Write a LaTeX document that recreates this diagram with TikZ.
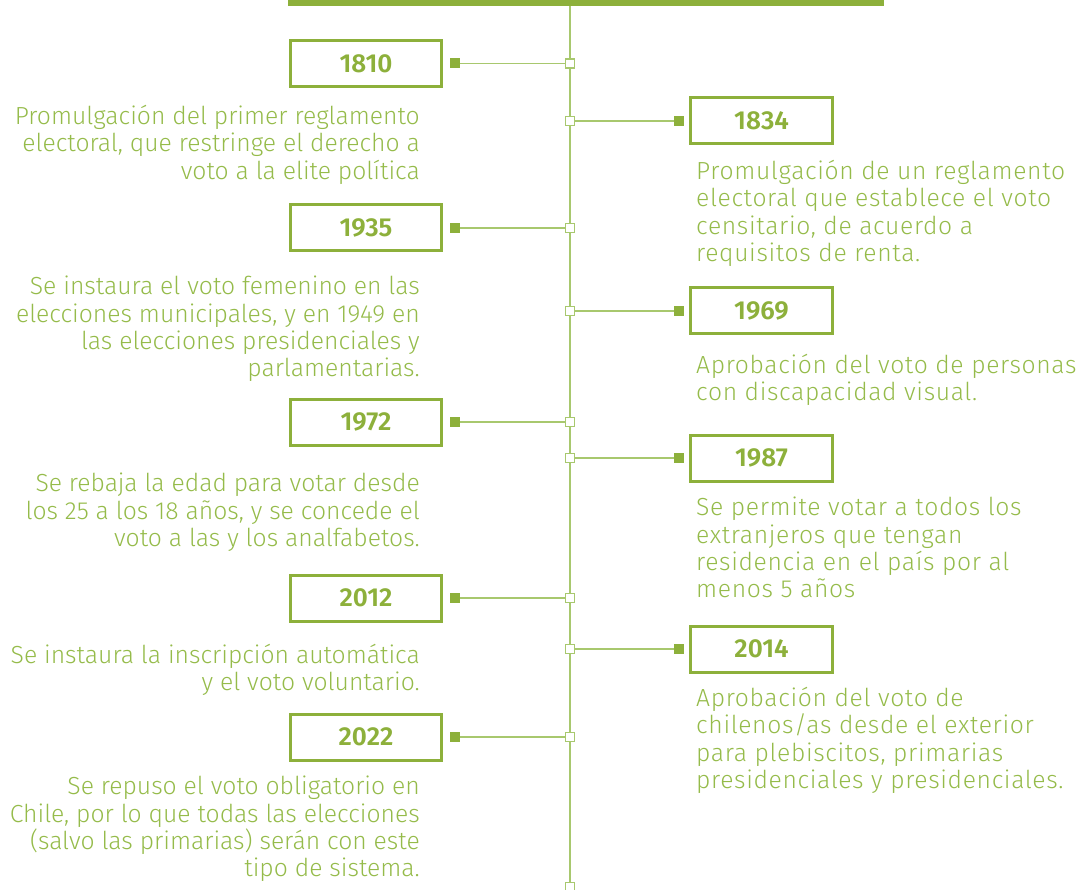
\documentclass[tikz,border=0pt]{standalone}
\usepackage{fontspec}
\setmainfont{Fira Sans}[UprightFont={* Light},BoldFont={* SemiBold}]
\newfontfamily\widefont{Fira Sans}[UprightFont={* Light},LetterSpace=2.6]
\definecolor{bargreen}{HTML}{8DB03B}
\definecolor{txtgreen}{HTML}{95BB4A}
\definecolor{linegreen}{HTML}{A8C86E}

\begin{document}
\begin{tikzpicture}[x=1pt,y=-1pt,
    yearbox/.style={draw=bargreen,line width=3pt,minimum height=46pt,inner sep=0pt,
      text=bargreen,font=\fontsize{26}{26}\selectfont\bfseries},
    dotfill/.style={fill=bargreen,minimum size=10pt,inner sep=0pt},
    dotopen/.style={draw=linegreen,fill=white,line width=1.5pt,minimum size=9pt,inner sep=0pt},
    link/.style={draw=linegreen,line width=1.6pt},
    lefttxt/.style={anchor=north east,inner sep=0pt,align=right,text=txtgreen,
      font=\fontsize{24.7}{27.3}\selectfont},
    righttxt/.style={anchor=north west,inner sep=0pt,align=left,text=txtgreen,
      font=\fontsize{24.7}{27.3}\selectfont\widefont}]
  % page
  \useasboundingbox (0,0) rectangle (1084,890);

  % top bar and axis
  \fill[bargreen] (288,0) rectangle (884,6.5);
  \coordinate (axtop) at (570,6);
  \coordinate (axbot) at (570,887);
  \draw[link] (axtop) -- (axbot);
  \node[dotopen] (obot) at (axbot) {};

  % left side
  \foreach \yr/\yb/\yt/\txt in {%
      1810/63.5/105/{Promulgación del primer reglamento\\electoral, que restringe el derecho a\\voto a la elite política},
      1935/228/276/{Se instaura el voto femenino en las\\elecciones municipales, y en 1949 en\\las elecciones presidenciales y\\parlamentarias.},
      1972/422/473/{Se rebaja la edad para votar desde\\los 25 a los 18 años, y se concede el\\voto a las y los analfabetos.},
      2012/598/644/{Se instaura la inscripción automática\\y el voto voluntario.},
      2022/737/776/{Se repuso el voto obligatorio en\\Chile, por lo que todas las elecciones\\(salvo las primarias) serán con este\\tipo de sistema.}}{
    \node[yearbox,minimum width=151pt] (y\yr) at (366,\yb) {\yr};
    \node[dotfill] (f\yr) at (455,\yb) {};
    \node[dotopen] (o\yr) at (570,\yb) {};
    \draw[link] (f\yr) -- (o\yr);
    \node[lefttxt] (t\yr) at (420,\yt) {\txt};
  }

  % right side
  \foreach \yr/\yb/\yt/\txt in {%
      1834/121/160/{Promulgación de un reglamento\\electoral que establece el voto\\censitario, de acuerdo a\\requisitos de renta.},
      1969/311/354/{Aprobación del voto de personas\\con discapacidad visual.},
      1987/458/497/{Se permite votar a todos los\\extranjeros que tengan\\residencia en el país por al\\menos 5 años},
      2014/649/687/{Aprobación del voto de\\chilenos/as desde el exterior\\para plebiscitos, primarias\\presidenciales y presidenciales.}}{
    \node[yearbox,minimum width=142pt] (y\yr) at (761.5,\yb) {\yr};
    \node[dotfill] (f\yr) at (679,\yb) {};
    \node[dotopen] (o\yr) at (570,\yb) {};
    \draw[link] (o\yr) -- (f\yr);
    \node[righttxt] (t\yr) at (696,\yt) {\txt};
  }
\end{tikzpicture}
\end{document}
